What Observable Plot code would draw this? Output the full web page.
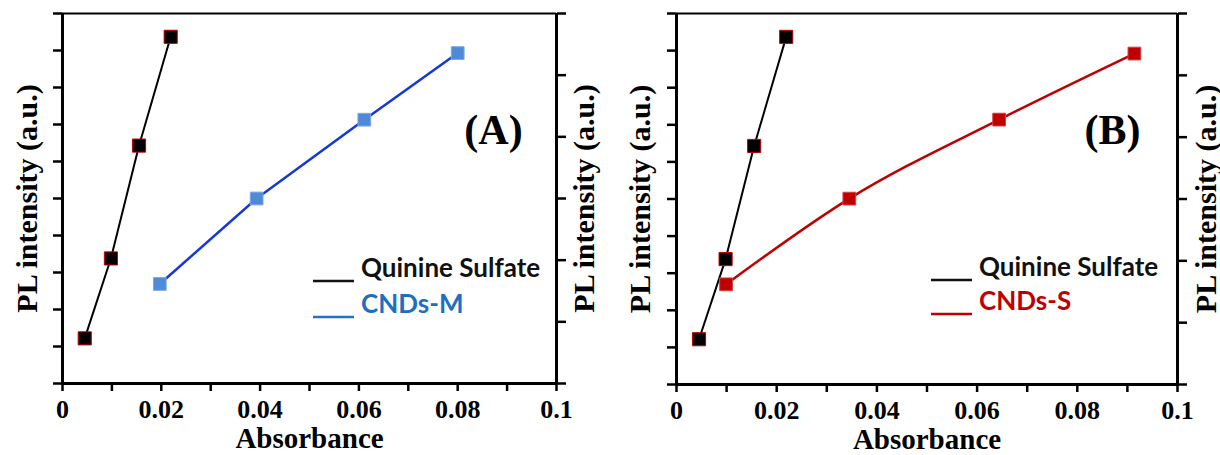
<!DOCTYPE html>
<html>
<head>
<meta charset="utf-8">
<script src="https://cdn.jsdelivr.net/npm/d3@7"></script>
<script src="https://cdn.jsdelivr.net/npm/@observablehq/plot@0.6"></script>
<style>
  html, body { margin: 0; padding: 0; background: #fff; }
  #wrap { display: flex; width: 1220px; height: 455px; }
</style>
</head>
<body>
<div id="wrap"></div>
<script>
// ---- data ----
const qsX = [0.0045, 0.0098, 0.0155, 0.0219];
const qsY = [1.22, 3.38, 6.43, 9.37];

const cndMX = [0.0197, 0.0393, 0.0611, 0.0800];
const cndMY = [2.69, 5.00, 7.13, 8.93];

const cndSX = [0.0099, 0.0345, 0.0644, 0.0914];
const cndSY = [2.70, 5.01, 7.14, 8.92];

const seriesNames = ["Quinine Sulfate", "CNDs-M", "CNDs-S"];
const panelLetters = ["(A)", "(B)"];

const xMajor = [0, 0.02, 0.04, 0.06, 0.08, 0.1];
const xTickLabels = ["0", "0.02", "0.04", "0.06", "0.08", "0.1"];
const xMinor = [0.01, 0.03, 0.05, 0.07, 0.09];
const yLeftTicks = [0, 1, 2, 3, 4, 5, 6, 7, 8, 9, 10];
const yRightTicks = [0, 1, 2, 3, 4, 5, 6].map(i => i * 10 / 6);

const xLabel = "Absorbance";
const yLabel = "PL intensity (a.u.)";

const SERIF = "'Liberation Serif', 'Times New Roman', serif";
const SANS = "Lato, 'Open Sans', sans-serif";

const labelFor = new Map(xMajor.map((v, i) => [v, xTickLabels[i]]));

function panel(cfg) {
  const qs = qsX.map((x, i) => ({x, y: qsY[i]}));
  const other = cfg.ox.map((x, i) => ({x, y: cfg.oy[i]}));
  const plot = Plot.plot({
    width: 610,
    height: 455,
    marginLeft: cfg.ml,
    marginRight: cfg.mr,
    marginTop: 13,
    marginBottom: cfg.mb,
    style: {fontFamily: SERIF, fontSize: "26px", fontWeight: "bold", color: "black", background: "white", overflow: "visible"},
    x: {domain: [0, 0.1], label: null},
    y: {domain: [0, 10], label: null},
    marks: [
      Plot.ruleY([10], {stroke: "black", strokeWidth: 2}),
      Plot.ruleY([0], {stroke: "black", strokeWidth: 3}),
      Plot.ruleX([0], {stroke: "black", strokeWidth: 3}),
      Plot.ruleX([0.1], {stroke: "black", strokeWidth: 3}),
      Plot.axisY(yLeftTicks, {anchor: "left", tickSize: 9, tickFormat: () => "", strokeWidth: 2.5, label: null}),
      Plot.axisY(yRightTicks, {anchor: "right", tickSize: 9, tickFormat: () => "", strokeWidth: 2.5, label: null}),
      Plot.axisX(xMinor, {anchor: "bottom", tickSize: 8, tickFormat: () => "", strokeWidth: 2.5, label: null}),
      Plot.axisX(xMajor, {anchor: "bottom", tickSize: 8, tickPadding: 8, tickFormat: d => labelFor.get(d),
        strokeWidth: 2.5, fill: "black", label: null}),
      Plot.line(qs, {x: "x", y: "y", stroke: "black", strokeWidth: 2}),
      Plot.line(other, {x: "x", y: "y", stroke: cfg.lineColor, strokeWidth: 2.5, curve: cfg.curve}),
      Plot.dot(qs, {x: "x", y: "y", symbol: "square", r: 7.4, fill: "black", stroke: "#c00000", strokeWidth: 1}),
      Plot.dot(other, {x: "x", y: "y", symbol: "square", r: 7.2, fill: cfg.dotFill, stroke: cfg.dotStroke, strokeWidth: 1}),
      Plot.text([yLabel], {frameAnchor: "left", textAnchor: "middle", lineAnchor: "middle", dx: cfg.ylDx, rotate: -90,
        fontSize: 30, fontWeight: "bold", fontFamily: SERIF}),
      Plot.text([yLabel], {frameAnchor: "right", textAnchor: "middle", lineAnchor: "middle", dx: cfg.yrDx, rotate: -90,
        fontSize: 30, fontWeight: "bold", fontFamily: SERIF}),
      Plot.text([xLabel], {frameAnchor: "bottom", textAnchor: "middle", lineAnchor: "middle", dy: 55,
        fontSize: 29, fontWeight: "bold", fontFamily: SERIF}),
      Plot.text([cfg.letter], {frameAnchor: "top-right", textAnchor: "middle", lineAnchor: "middle", dx: cfg.letterDx, dy: 117,
        fontSize: 42, fontWeight: "bold", fontFamily: SERIF})
    ]
  });
  // tick label styling
  const svg = d3.select(plot);
  svg.selectAll("g[aria-label='x-axis tick label'] text")
    .attr("font-size", 26).attr("font-weight", "bold").attr("font-family", SERIF);
  // legend
  const lg = svg.append("g").attr("text-anchor", "start");
  cfg.legend.forEach(e => {
    lg.append("line").attr("x1", cfg.lgX).attr("x2", cfg.lgX + 41)
      .attr("y1", e.base + 4).attr("y2", e.base + 4)
      .attr("stroke", e.color).attr("stroke-width", 2.4);
    lg.append("text").attr("x", cfg.lgX + 48).attr("y", e.base)
      .attr("text-anchor", "start")
      .attr("fill", e.textColor).attr("font-family", SANS).attr("font-weight", "bold")
      .attr("font-size", 26).text(e.name);
  });
  return plot;
}

const wrap = document.getElementById("wrap");
wrap.appendChild(panel({
  ox: cndMX, oy: cndMY, ml: 62, mr: 54, mb: 72,
  lineColor: "#1538d8", dotFill: "#4f8ad8", dotStroke: "#7ea8e6", curve: "linear",
  ylDx: -35, yrDx: 28, letter: panelLetters[0], letterDx: -63, lgX: 313,
  legend: [
    {name: seriesNames[0], color: "#111", textColor: "#111", base: 277},
    {name: seriesNames[1], color: "#2272c8", textColor: "#1f6fbf", base: 313}
  ]
}));
wrap.appendChild(panel({
  ox: cndSX, oy: cndSY, ml: 66, mr: 43, mb: 71,
  lineColor: "#c00000", dotFill: "#c00000", dotStroke: "#d84040", curve: "monotone-x",
  ylDx: -36, yrDx: 29, letter: panelLetters[1], letterDx: -65, lgX: 321,
  legend: [
    {name: seriesNames[0], color: "#111", textColor: "#111", base: 276},
    {name: seriesNames[2], color: "#c00000", textColor: "#c00000", base: 310}
  ]
}));
</script>
</body>
</html>
